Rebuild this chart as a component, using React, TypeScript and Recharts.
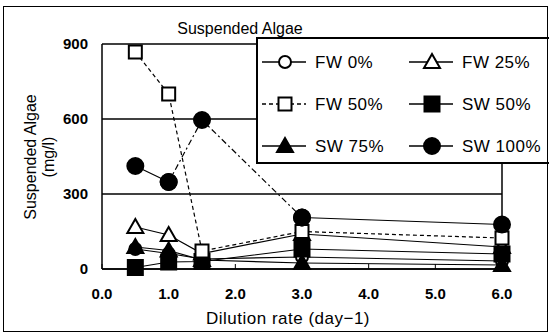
import React from 'react';
import {
  CartesianGrid,
  Line,
  LineChart,
  ReferenceLine,
  XAxis,
  YAxis,
} from 'recharts';

const dilution = [0.5, 1.0, 1.5, 3.0, 6.0];
const fw0 = [80, 62, 40, 48, 32];
const fw25 = [168, 136, 62, 140, 88];
const fw50 = [868, 700, 72, 150, 124];
const sw50 = [6, 28, 30, 80, 60];
const sw75 = [88, 74, 36, 24, 16];
const sw100 = [412, 348, 596, 206, 178];

const xTicks = [0, 1, 2, 3, 4, 5, 6];
const yTicks = [0, 300, 600, 900];

const FONT = '"Liberation Sans", Arial, sans-serif';

type Shape = 'circle' | 'triangle' | 'square';

function Marker({ cx, cy, shape, filled }: { cx: number; cy: number; shape: Shape; filled: boolean }) {
  const fill = filled ? '#000' : '#fff';
  if (shape === 'circle') {
    return <circle cx={cx} cy={cy} r={filled ? 8 : 6} fill={fill} stroke="#000" strokeWidth={2} />;
  }
  if (shape === 'square') {
    const s = filled ? 15 : 13;
    return (
      <rect x={cx - s / 2} y={cy - s / 2} width={s} height={s} fill={fill} stroke="#000" strokeWidth={2} />
    );
  }
  const h = 7;
  return (
    <polygon
      points={`${cx},${cy - h - 1} ${cx - h - 1},${cy + h - 1} ${cx + h + 1},${cy + h - 1}`}
      fill={fill}
      stroke="#000"
      strokeWidth={2}
      strokeLinejoin="miter"
    />
  );
}

function dotFor(name: string, shape: Shape, filled: boolean) {
  return (props: any) => {
    const { cx, cy, index, value } = props;
    if (cx == null || cy == null || value == null) return <g key={`${name}-${index}`} />;
    return (
      <g key={`${name}-${index}`}>
        <Marker cx={cx} cy={cy} shape={shape} filled={filled} />
      </g>
    );
  };
}

// x tick: label below, short tick pointing up into the plot
function XTick(props: any) {
  const { x, y, payload } = props;
  return (
    <g>
      <line x1={x} y1={y - 19} x2={x} y2={y - 24} stroke="#000" strokeWidth={1} />
      <text x={x} y={y} dy="0.71em" textAnchor="middle" fontSize={15} fontWeight="bold" fontFamily={FONT} fill="#000">
        {Number(payload.value).toFixed(1)}
      </text>
    </g>
  );
}

const data = dilution.map((x, i) => ({
  x,
  fw0: fw0[i],
  fw25: fw25[i],
  fw50: fw50[i],
  sw50: sw50[i],
  sw75: sw75[i],
  sw100Solid: i === 2 ? null : sw100[i],
  sw100Dash: i === 0 || i === 4 ? null : sw100[i],
}));

const legendItems: { label: string; shape: Shape; filled: boolean; dash?: string }[] = [
  { label: 'FW 0%', shape: 'circle', filled: false },
  { label: 'FW 25%', shape: 'triangle', filled: false },
  { label: 'FW 50%', shape: 'square', filled: false, dash: '4 3' },
  { label: 'SW 50%', shape: 'square', filled: true },
  { label: 'SW 75%', shape: 'triangle', filled: true },
  { label: 'SW 100%', shape: 'circle', filled: true },
];

function BoxLegend() {
  return (
    <svg width={293} height={127} style={{ display: 'block' }}>
      <rect x={1} y={1} width={300} height={125} fill="#fff" stroke="#000" strokeWidth={2} />
      {legendItems.map((it, i) => {
        const col = i % 2;
        const row = Math.floor(i / 2);
        const x0 = col === 0 ? 6 : 153;
        const y = 25 + row * 42;
        return (
          <g key={it.label}>
            <line x1={x0} y1={y} x2={x0 + 44} y2={y} stroke="#000" strokeWidth={1.5} strokeDasharray={it.dash} />
            <Marker cx={x0 + 23} cy={y} shape={it.shape} filled={it.filled} />
            <text x={x0 + 53} y={y + 6} fontSize={17} fontFamily={FONT} fill="#000" letterSpacing={0.5}>
              {it.label}
            </text>
          </g>
        );
      })}
    </svg>
  );
}

export default function App() {
  return (
    <div style={{ position: 'absolute', left: 0, top: 0, width: 550, height: 334, background: '#fff' }}>
      <LineChart
        width={550}
        height={334}
        data={data}
        margin={{ top: 44, right: 48, bottom: 35, left: 62 }}
        style={{ fontFamily: FONT }}
      >
        <CartesianGrid horizontal vertical={false} stroke="#000" strokeWidth={1.5} />
        <XAxis
          dataKey="x"
          type="number"
          domain={[0, 6]}
          ticks={xTicks}
          tick={<XTick />}
          tickLine={false}
          tickSize={0}
          tickMargin={19}
          axisLine={{ stroke: '#000', strokeWidth: 1.5 }}
          height={30}
        />
        <YAxis
          type="number"
          domain={[0, 900]}
          ticks={yTicks}
          tick={{ fontSize: 15, fontWeight: 'bold', fill: '#000' }}
          tickLine={false}
          tickSize={0}
          tickMargin={14}
          axisLine={{ stroke: '#000', strokeWidth: 1.5 }}
          width={40}
        />
        <ReferenceLine x={6} stroke="#000" strokeWidth={1.5} />
        <Line dataKey="fw0" stroke="#000" strokeWidth={1.2} dot={dotFor('fw0', 'circle', false)} isAnimationActive={false} />
        <Line dataKey="fw25" stroke="#000" strokeWidth={1.2} dot={dotFor('fw25', 'triangle', false)} isAnimationActive={false} />
        <Line dataKey="sw50" stroke="#000" strokeWidth={1.2} dot={dotFor('sw50', 'square', true)} isAnimationActive={false} />
        <Line dataKey="sw75" stroke="#000" strokeWidth={1.2} dot={dotFor('sw75', 'triangle', true)} isAnimationActive={false} />
        <Line
          dataKey="fw50"
          stroke="#000"
          strokeWidth={1.2}
          strokeDasharray="4 3"
          dot={dotFor('fw50', 'square', false)}
          isAnimationActive={false}
        />
        <Line
          dataKey="sw100Solid"
          stroke="#000"
          strokeWidth={1.2}
          dot={dotFor('sw100s', 'circle', true)}
          isAnimationActive={false}
        />
        <Line
          dataKey="sw100Dash"
          stroke="#000"
          strokeWidth={1.2}
          strokeDasharray="6 3 2 3"
          dot={dotFor('sw100d', 'circle', true)}
          isAnimationActive={false}
        />
        <text x={240} y={34} textAnchor="middle" fontSize={16} fontFamily={FONT} fill="#000">
          Suspended Algae
        </text>
        <text
          transform="translate(36,157) rotate(-90)"
          textAnchor="middle"
          fontSize={16}
          fontFamily={FONT}
          fill="#000"
        >
          Suspended Algae
        </text>
        <text
          transform="translate(54,157) rotate(-90)"
          textAnchor="middle"
          fontSize={16}
          fontFamily={FONT}
          fill="#000"
        >
          (mg/l)
        </text>
        <text x={288} y={324} textAnchor="middle" fontSize={17} fontFamily={FONT} fill="#000" letterSpacing={0.5}>
          Dilution rate (day−1)
        </text>
      </LineChart>
      <div style={{ position: 'absolute', left: 256, top: 37 }}>
        <BoxLegend />
      </div>
      <div
        style={{
          position: 'absolute',
          left: 3,
          top: 6,
          width: 543,
          height: 324,
          border: '1.5px solid #000',
          pointerEvents: 'none',
        }}
      />
    </div>
  );
}
